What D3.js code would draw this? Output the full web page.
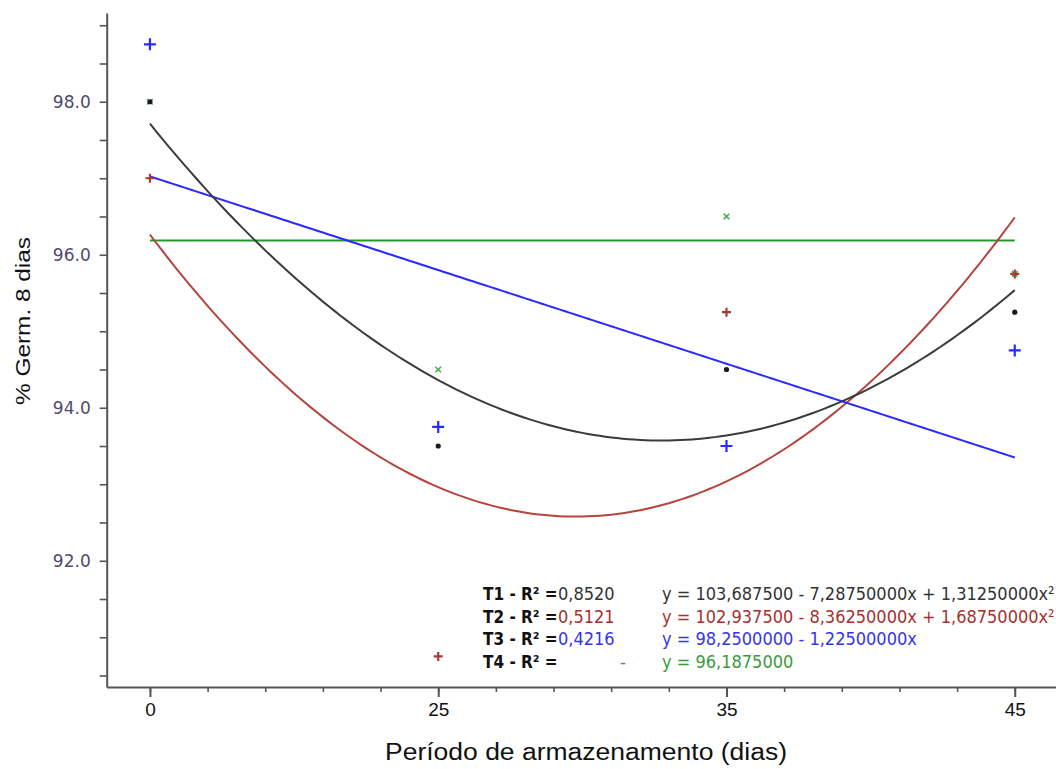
<!DOCTYPE html>
<html>
<head>
<meta charset="utf-8">
<script src="https://cdn.jsdelivr.net/npm/d3@7"></script>
<style>
  body { margin: 0; background: #fff; }
  svg { display: block; }
</style>
</head>
<body>
<div id="chart"></div>
<script>
// categories on the x axis (plotted at positions 1..4, same as the x used in the fitted equations)
var categories = ["0", "25", "35", "45"];
var xIndex = [1, 2, 3, 4];

var t1Values = [98.0, 93.5, 94.5, 95.25];
var t2Values = [97.0, 90.75, 95.25, 95.75];
var t3Values = [98.75, 93.75, 93.5, 94.75];
var t4Values = [98.0, 94.5, 96.5, 95.75];

// regression coefficients printed in the chart: y = a + b x + c x²
var t1Coef = [103.6875, -7.2875, 1.3125];
var t2Coef = [102.9375, -8.3625, 1.6875];
var t3Coef = [98.25, -1.225, 0];
var t4Coef = [96.1875, 0, 0];

// legend texts
var seriesNames = ["T1 - R² =", "T2 - R² =", "T3 - R² =", "T4 - R² ="];
var r2Labels = ["0,8520", "0,5121", "0,4216", "-"];
var eqLabels = [
  "y = 103,687500 - 7,28750000x + 1,31250000x²",
  "y = 102,937500 - 8,36250000x + 1,68750000x²",
  "y = 98,2500000 - 1,22500000x",
  "y = 96,1875000"
];

var yLabelTicks = [92, 94, 96, 98];

var svgWidth = 1056;
var svgHeight = 769;

var svg = d3.select("#chart")
  .append("svg")
  .attr("width", svgWidth)
  .attr("height", svgHeight)
  .style("background", "#fff");

var xScale = d3.scaleLinear()
  .domain([0.85, 4.15])
  .range([106.7, 1058]);

var yScale = d3.scaleLinear()
  .domain([90.35, 99.16])
  .range([687, 13]);

var axisColor = "#555";

// y axis: ticks every 0.5, labels on the even integers
var yAxis = d3.axisLeft(yScale)
  .tickValues(d3.range(90.5, 99.01, 0.5))
  .tickSize(7)
  .tickSizeOuter(0)
  .tickPadding(9)
  .tickFormat(d => yLabelTicks.indexOf(Math.round(d * 2) / 2) >= 0 ? d.toFixed(1) : "");

var yG = svg.append("g")
  .attr("transform", "translate(106.7,0)")
  .call(yAxis);
yG.select(".domain").attr("stroke", axisColor).attr("stroke-width", 2);
yG.selectAll(".tick line").attr("stroke", axisColor).attr("stroke-width", 1.6);
yG.selectAll(".tick text")
  .attr("font-family", "DejaVu Sans, Verdana, sans-serif")
  .attr("font-size", 17)
  .attr("fill", "#4c4c6c");

// x axis: minor ticks every 0.2 of a category step, major ticks at categories
var xMinor = d3.axisBottom(xScale)
  .tickValues(d3.range(1, 4.01, 0.2))
  .tickSize(5)
  .tickSizeOuter(0)
  .tickFormat("");
var xMinorG = svg.append("g")
  .attr("transform", "translate(0,687)")
  .call(xMinor);
xMinorG.select(".domain").attr("stroke", axisColor).attr("stroke-width", 2);
xMinorG.selectAll(".tick line").attr("stroke", axisColor).attr("stroke-width", 1.6);

var xMajor = d3.axisBottom(xScale)
  .tickValues(xIndex)
  .tickSize(10)
  .tickSizeOuter(0)
  .tickPadding(6)
  .tickFormat((d, i) => categories[i]);
var xMajorG = svg.append("g")
  .attr("transform", "translate(0,687)")
  .call(xMajor);
xMajorG.select(".domain").remove();
xMajorG.selectAll(".tick line").attr("stroke", axisColor).attr("stroke-width", 2);
xMajorG.selectAll(".tick text")
  .attr("font-family", "Liberation Sans, Arial, sans-serif")
  .attr("font-size", 19)
  .attr("fill", "#111");

// fitted curves
var series = [
  { values: t1Values, coef: t1Coef, color: "#3b3b3b", text: "#333333", marker: "dot" },
  { values: t2Values, coef: t2Coef, color: "#b5443f", text: "#a8302c", marker: "plusSmall" },
  { values: t3Values, coef: t3Coef, color: "#2a2aff", text: "#3434f0", marker: "plus" },
  { values: t4Values, coef: t4Coef, color: "#22992a", text: "#3a9a3a", marker: "times" }
];

var sampleX = d3.range(1, 4.0001, 0.02);
var line = d3.line()
  .x(d => xScale(d[0]))
  .y(d => yScale(d[1]));

[series[3], series[1], series[2], series[0]].forEach(function(s) {
  var pts = sampleX.map(x => [x, s.coef[0] + s.coef[1] * x + s.coef[2] * x * x]);
  svg.append("path")
    .datum(pts)
    .attr("d", line)
    .attr("fill", "none")
    .attr("stroke", s.color)
    .attr("stroke-width", 2);
});

// markers
var markerPath = {
  plus: "M-6,0H6M0,-6V6",
  plusSmall: "M-4.5,0H4.5M0,-4.5V4.5",
  times: "M-2.8,-2.8L2.8,2.8M-2.8,2.8L2.8,-2.8"
};

[series[3], series[1], series[2], series[0]].forEach(function(s) {
  var g = svg.append("g");
  if (s.marker === "dot") {
    g.selectAll("circle")
      .data(s.values)
      .enter()
      .append("circle")
      .attr("cx", (d, i) => xScale(xIndex[i]))
      .attr("cy", d => yScale(d))
      .attr("r", 2.6)
      .attr("fill", "#1a1a1a");
  } else {
    g.selectAll("path")
      .data(s.values)
      .enter()
      .append("path")
      .attr("transform", (d, i) => `translate(${xScale(xIndex[i])},${yScale(d)})`)
      .attr("d", markerPath[s.marker])
      .attr("fill", "none")
      .attr("stroke", s.marker === "times" ? "#4aaa4a" : (s.marker === "plusSmall" ? "#a83a36" : s.color))
      .attr("stroke-width", s.marker === "times" ? 1.6 : 2.2);
  }
});

// legend with R² and equations
var legend = svg.append("g")
  .attr("font-family", "DejaVu Sans Condensed, DejaVu Sans, sans-serif")
  .attr("font-stretch", "condensed")
  .attr("font-size", 18);

seriesNames.forEach(function(name, i) {
  var y = 600 + i * 22.5;
  legend.append("text")
    .attr("x", 483).attr("y", y)
    .attr("font-weight", "bold")
    .attr("font-size", 17)
    .attr("fill", "#111")
    .text(name);
  legend.append("text")
    .attr("x", i === 3 ? 620 : 558).attr("y", y)
    .attr("fill", series[i].text)
    .text(r2Labels[i]);
  legend.append("text")
    .attr("x", 662).attr("y", y)
    .attr("fill", series[i].text)
    .text(eqLabels[i]);
});

// axis titles
svg.append("text")
  .attr("x", 385)
  .attr("y", 760)
  .attr("font-family", "Liberation Sans, Arial, sans-serif")
  .attr("font-size", 23)
  .attr("fill", "#111")
  .attr("textLength", 402)
  .attr("lengthAdjust", "spacingAndGlyphs")
  .text("Período de armazenamento (dias)");

svg.append("text")
  .attr("transform", "translate(30,405) rotate(-90)")
  .attr("font-family", "Liberation Sans, Arial, sans-serif")
  .attr("font-size", 21)
  .attr("fill", "#111")
  .attr("textLength", 168)
  .attr("lengthAdjust", "spacingAndGlyphs")
  .text("% Germ. 8 dias");
</script>
</body>
</html>
